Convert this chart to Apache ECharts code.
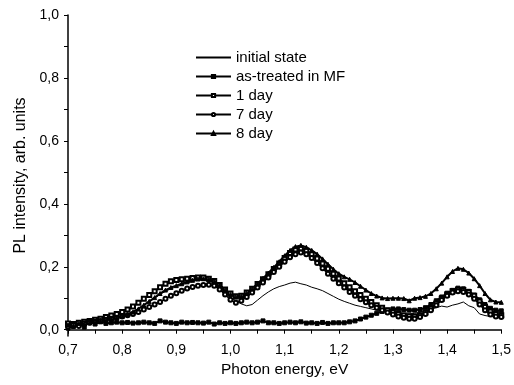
<!DOCTYPE html>
<html>
<head>
<meta charset="utf-8">
<script src="https://cdn.jsdelivr.net/npm/echarts@6/dist/echarts.min.js"></script>
<style>html,body{margin:0;padding:0;background:#fff}#c{width:514px;height:385px}</style>
</head>
<body>
<div id="c"></div>
<script>
const energy = [0.70,0.71,0.72,0.73,0.74,0.75,0.76,0.77,0.78,0.79,
0.80,0.81,0.82,0.83,0.84,0.85,0.86,0.87,0.88,0.89,
0.90,0.91,0.92,0.93,0.94,0.95,0.96,0.97,0.98,0.99,
1.00,1.01,1.02,1.03,1.04,1.05,1.06,1.07,1.08,1.09,
1.10,1.11,1.12,1.13,1.14,1.15,1.16,1.17,1.18,1.19,
1.20,1.21,1.22,1.23,1.24,1.25,1.26,1.27,1.28,1.29,
1.30,1.31,1.32,1.33,1.34,1.35,1.36,1.37,1.38,1.39,
1.40,1.41,1.42,1.43,1.44,1.45,1.46,1.47,1.48,1.49,1.50];

const initialState = [0.012,0.014,0.018,0.02,0.022,0.025,0.028,0.031,0.035,0.039,
0.044,0.05,0.058,0.067,0.078,0.089,0.1,0.112,0.122,0.13,
0.136,0.142,0.148,0.153,0.157,0.158,0.156,0.15,0.138,0.122,
0.102,0.092,0.082,0.076,0.08,0.094,0.108,0.12,0.13,0.137,
0.142,0.148,0.151,0.146,0.142,0.135,0.13,0.124,0.115,0.106,
0.097,0.09,0.084,0.078,0.074,0.07,0.066,0.062,0.06,0.057,
0.054,0.051,0.05,0.05,0.052,0.055,0.06,0.065,0.07,0.075,
0.072,0.078,0.082,0.088,0.076,0.07,0.05,0.045,0.042,0.04,0.04];

const asTreated = [0.005,0.01,0.02,0.008,0.028,0.018,0.025,0.02,0.022,0.024,
0.022,0.023,0.021,0.022,0.024,0.022,0.02,0.028,0.024,0.022,
0.02,0.024,0.022,0.023,0.022,0.021,0.024,0.018,0.022,0.02,
0.022,0.02,0.022,0.024,0.022,0.024,0.028,0.022,0.022,0.02,
0.022,0.024,0.022,0.025,0.021,0.022,0.02,0.023,0.02,0.022,
0.022,0.022,0.025,0.028,0.034,0.04,0.046,0.052,0.058,0.062,
0.066,0.066,0.064,0.062,0.062,0.064,0.07,0.08,0.092,0.104,
0.116,0.125,0.132,0.13,0.122,0.11,0.095,0.08,0.068,0.062,0.06];

const day1 = [0.02,0.018,0.022,0.025,0.028,0.032,0.035,0.04,0.045,0.05,
0.056,0.064,0.074,0.086,0.098,0.11,0.122,0.135,0.146,0.154,
0.158,0.16,0.162,0.164,0.166,0.166,0.162,0.155,0.142,0.128,
0.115,0.106,0.108,0.118,0.13,0.145,0.16,0.176,0.193,0.21,
0.228,0.244,0.255,0.258,0.252,0.24,0.226,0.21,0.194,0.178,
0.163,0.148,0.135,0.122,0.11,0.098,0.088,0.078,0.07,0.062,
0.056,0.05,0.046,0.043,0.042,0.046,0.055,0.068,0.083,0.098,
0.112,0.122,0.127,0.126,0.12,0.108,0.09,0.072,0.058,0.05,0.046];

const day7 = [0.01,0.015,0.012,0.02,0.022,0.025,0.028,0.032,0.035,0.038,
0.042,0.046,0.05,0.056,0.064,0.072,0.08,0.088,0.098,0.108,
0.116,0.124,0.131,0.136,0.14,0.142,0.143,0.14,0.128,0.112,
0.095,0.086,0.092,0.104,0.118,0.134,0.15,0.166,0.183,0.2,
0.216,0.23,0.24,0.245,0.24,0.228,0.212,0.195,0.178,0.162,
0.148,0.134,0.12,0.108,0.097,0.087,0.078,0.07,0.062,0.055,
0.048,0.042,0.038,0.035,0.035,0.04,0.05,0.062,0.078,0.094,
0.108,0.118,0.122,0.12,0.112,0.098,0.08,0.062,0.048,0.042,0.04];

const day8 = [0.015,0.012,0.02,0.018,0.022,0.025,0.028,0.03,0.034,0.038,
0.042,0.048,0.056,0.066,0.078,0.09,0.102,0.115,0.126,0.134,
0.14,0.146,0.152,0.157,0.161,0.162,0.16,0.154,0.142,0.126,
0.112,0.104,0.106,0.116,0.13,0.146,0.163,0.18,0.198,0.216,
0.235,0.252,0.264,0.268,0.262,0.252,0.24,0.225,0.208,0.192,
0.178,0.168,0.16,0.15,0.138,0.126,0.115,0.107,0.101,0.099,
0.1,0.1,0.099,0.092,0.1,0.102,0.106,0.115,0.13,0.148,
0.168,0.185,0.195,0.192,0.18,0.162,0.14,0.115,0.095,0.088,0.087];

const seriesNames = ['initial state','as-treated in MF','1 day','7 day','8 day'];
const yTicks = [0,0.1,0.2,0.3,0.4,0.5,0.6,0.7,0.8,0.9,1.0];
const yLabels = [0,0.2,0.4,0.6,0.8,1.0];

const pair = arr => energy.map((e,i)=>[e,arr[i]]);
const fmt = v => v.toFixed(1).replace('.', ',');
const FONT = 'Liberation Sans, Arial, sans-serif';

const chart = echarts.init(document.getElementById('c'), null, {renderer:'canvas'});
function mk(name, data, symbol, size, lw) {
  return {
    name, type:'line', data: pair(data),
    symbol: symbol || 'none', symbolSize: size || 0, showSymbol: !!symbol,
    lineStyle:{color:'#000', width: lw || 1}, itemStyle:{color:'#000', borderColor:'#000', borderWidth:1},
    emphasis:{disabled:true}, z: 2
  };
}
chart.setOption({
  animation:false,
  backgroundColor:'#fff',
  grid:{left:68, right:11, top:15, bottom:49, containLabel:false},
  legend:{
    orient:'vertical', left:190, top:45, itemWidth:35, itemHeight:4, itemGap:4,
    textStyle:{fontFamily:FONT, fontSize:15, color:'#000'},
    data: [{name:seriesNames[0], itemStyle:{opacity:0}}, seriesNames[1], seriesNames[2], seriesNames[3], seriesNames[4]]
  },
  xAxis:{
    type:'value', min:0.7, max:1.5, interval:0.1,
    name:'Photon energy, eV', nameLocation:'middle', nameGap:21,
    nameTextStyle:{fontFamily:FONT, fontSize:15.5, color:'#000'},
    axisLine:{lineStyle:{color:'#000', width:1.5}},
    axisTick:{show:true, inside:false, length:4, lineStyle:{color:'#000'}},
    minorTick:{show:true, splitNumber:2, length:4, lineStyle:{color:'#000'}},
    axisLabel:{formatter:fmt, fontFamily:FONT, fontSize:14, color:'#000', margin:7},
    splitLine:{show:false}
  },
  yAxis:{
    type:'value', min:-0.02, max:1.0,
    name:'PL intensity, arb. units', nameLocation:'middle', nameGap:36,
    nameTextStyle:{fontFamily:FONT, fontSize:16, color:'#000'},
    axisLine:{show:true, lineStyle:{color:'#000', width:1.5}},
    axisTick:{show:true, inside:false, length:4, customValues:yTicks, lineStyle:{color:'#000'}},
    axisLabel:{customValues:yLabels, formatter:fmt, fontFamily:FONT, fontSize:14, color:'#000', margin:9},
    splitLine:{show:false}
  },
  series:[
    mk(seriesNames[0], initialState),
    mk(seriesNames[1], asTreated, 'rect', 4, 2),
    mk(seriesNames[2], day1, 'emptyRect', 4, 1.5),
    mk(seriesNames[3], day7, 'emptyCircle', 4, 1.5),
    mk(seriesNames[4], day8, 'triangle', 4, 2)
  ]
});
</script>
</body>
</html>
